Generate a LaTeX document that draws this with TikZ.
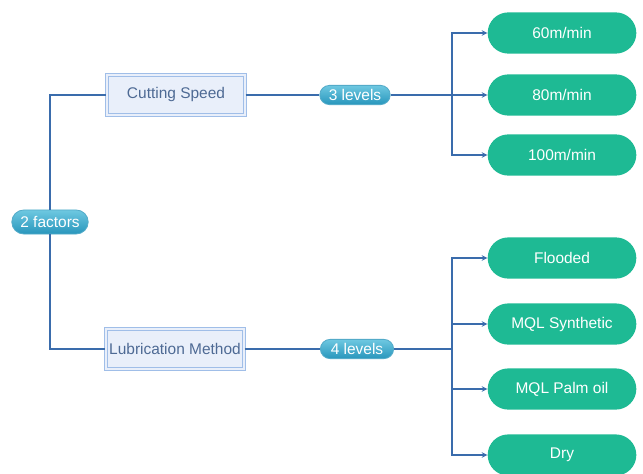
\documentclass[tikz,border=0pt]{standalone}
\usepackage{fontspec}
\setmainfont{Liberation Sans}
\usepackage{tikz}
\usetikzlibrary{shapes.misc,arrows,positioning}
\definecolor{linkblue}{RGB}{58, 108, 172}
\definecolor{boxfill}{RGB}{233, 239, 250}
\definecolor{boxline}{RGB}{160, 190, 232}
\definecolor{boxtext}{RGB}{78, 106, 148}
\definecolor{pilltop}{RGB}{110, 200, 225}
\definecolor{pillbot}{RGB}{40, 150, 188}
\definecolor{levelgreen}{RGB}{30, 186, 148}

\begin{document}
\begin{tikzpicture}[x=0.025cm, y=-0.025cm, >=stealth,
    every node/.style={font=\fontsize{11}{13}\selectfont},
    factorbox/.style={draw=boxline, fill=boxfill, line width=0.7pt, double=boxfill, double distance=1.5pt,
        minimum width=3.45cm, minimum height=0.98cm, inner xsep=1.5pt, text=boxtext},
    tagpill/.style={rounded rectangle, draw=pillbot!80!white, line width=0.6pt,
        top color=pilltop, bottom color=pillbot, text=white,
        minimum height=0.48cm, inner xsep=2pt, inner ysep=1pt},
    levelpill/.style={rounded rectangle, fill=levelgreen, text=white,
        minimum width=3.95cm, minimum height=1.03cm},
    link/.style={draw=linkblue, line width=0.8pt}]
        \useasboundingbox (0,0) rectangle (643,473);

        % Factors
        \node[tagpill, minimum width=2.05cm, minimum height=0.6cm] (factors) at (50, 222) {2 factors};
        \node[factorbox] (speed) at (176, 95) {Cutting Speed};
        \node[factorbox] (lub) at (175, 349) {Lubrication Method};

        % Level tags
        \node[tagpill, minimum width=1.9cm] (lev3) at (355, 95) {3 levels};
        \node[tagpill, minimum width=1.97cm] (lev4) at (357, 349) {4 levels};

        % Junctions
        \coordinate (j1) at (452, 95);
        \coordinate (j2) at (452, 349);

        % Levels of cutting speed
        \node[levelpill] (v60) at (562, 33) {60m/min};
        \node[levelpill] (v80) at (562, 95) {80m/min};
        \node[levelpill] (v100) at (562, 155) {100m/min};

        % Levels of lubrication
        \node[levelpill] (flood) at (562, 258) {Flooded};
        \node[levelpill] (mqls) at (562, 324) {MQL Synthetic};
        \node[levelpill] (mqlp) at (562, 389) {MQL Palm oil};
        \node[levelpill] (dry) at (562, 455) {Dry};

        % Connectors
        \draw[link] (factors.north) |- (speed.west);
        \draw[link] (factors.south) |- (lub.west);
        \draw[link] (speed.east) -- (lev3.west);
        \draw[link] (lev3.east) -- (j1);
        \draw[link] (lub.east) -- (lev4.west);
        \draw[link] (lev4.east) -- (j2);

        \draw[link, ->] (j1) |- (v60.west);
        \draw[link, ->] (j1) -- (v80.west);
        \draw[link, ->] (j1) |- (v100.west);

        \draw[link, ->] (j2) |- (flood.west);
        \draw[link, ->] (j2) |- (mqls.west);
        \draw[link, ->] (j2) |- (mqlp.west);
        \draw[link, ->] (j2) |- (dry.west);
    \end{tikzpicture}
\end{document}
